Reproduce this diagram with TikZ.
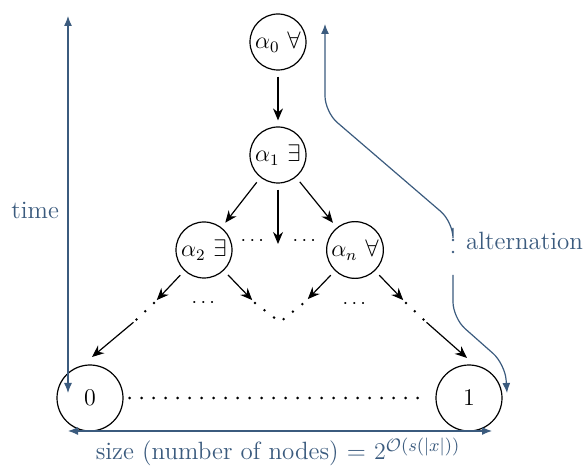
\documentclass[tikz,border=0pt]{standalone}
\usepackage{amsmath}
\usepackage{amssymb}
\usetikzlibrary{arrows.meta}
\definecolor{annot}{HTML}{3B5B7E}
\tikzset{
	state/.style={circle,draw,semithick,minimum size=28pt,inner sep=1pt,font=\large},
	bigstate/.style={circle,draw,semithick,minimum size=33pt,inner sep=1pt,font=\large},
	arr/.style={-{Stealth[length=6pt,width=5pt]},semithick,shorten >=3pt,shorten <=3pt},
	dotline/.style={line width=1.4pt,line cap=round,dash pattern=on 0pt off 6pt},
	note/.style={annot,semithick},
	notetext/.style={annot,font=\fontsize{12.5}{15}\selectfont}
}

\begin{document}
\begin{tikzpicture}[x=0.5pt,y=-0.5pt]
	\useasboundingbox (0,0) rectangle (584,470);

	\node [state] (a0) at (278,42) {$\alpha_0\ \forall$};
	\node [state] (a1) at (278,155) {$\alpha_1\ \exists$};
	\node [state] (a2) at (204,250) {$\alpha_2\ \exists$};
	\node [state] (an) at (355,250) {$\alpha_n\ \forall$};
	\node [bigstate] (zero) at (90,398) {0};
	\node [bigstate] (one) at (469,398) {1};

	\draw [arr] (a0) -- (a1);
	\draw [arr] (a1) -- (a2);
	\draw [arr] (a1) -- (an);
	\coordinate (mid) at (278,244);
	\draw [arr,shorten >=0pt] (a1) -- (mid);
	\node (d1) at (254,241) {$\cdots$};
	\node (d2) at (306,241) {$\cdots$};

	% second level
	\coordinate (l1) at (154,303);
	\coordinate (l2) at (135,321);
	\coordinate (v1) at (255,303);
	\coordinate (vb) at (280,322);
	\coordinate (v2) at (305,302);
	\coordinate (r1) at (406,303);
	\coordinate (r2) at (425,321);
	\coordinate (zt) at (92,357);
	\coordinate (ot) at (467,358);
	\draw [arr,shorten >=2pt] (a2) -- (l1);
	\draw [arr,shorten >=2pt] (a2) -- (v1);
	\draw [arr,shorten >=2pt] (an) -- (v2);
	\draw [arr,shorten >=2pt] (an) -- (r1);
	\draw [dotline] (l1) -- (l2);
	\draw [dotline] (v1) -- (vb) -- (v2);
	\draw [dotline] (r1) -- (r2);
	\node (d3) at (205,303) {$\cdots$};
	\node (d4) at (356,304) {$\cdots$};
	\draw [arr,shorten <=1pt,shorten >=0pt] (l2) -- (zt);
	\draw [arr,shorten <=1pt,shorten >=0pt] (r2) -- (ot);
	\draw [dotline,shorten <=3pt,shorten >=3pt] (zero) -- (one);

	% annotations
	\coordinate (tt) at (68,16);
	\coordinate (tb) at (68,393);
	\draw [note,{Latex[length=5pt,width=4pt]}-{Latex[length=5pt,width=4pt]}] (tt) -- (tb);
	\node [notetext,anchor=east] (time) at (66,210) {time};

	\coordinate (at) at (325,24);
	\coordinate (am) at (453,228);
	\coordinate (am2) at (453,275);
	\coordinate (ab) at (507,393);
	\draw [note,rounded corners=8pt,{Latex[length=5pt,width=4pt]}-] (at) -- (325,112) -- (453,222) -- (am);
	\draw [note,line width=1.3pt,line cap=round,dash pattern=on 0pt off 6pt] (453,240) -- (453,264);
	\draw [note,rounded corners=8pt,-{Latex[length=5pt,width=4pt]}] (am2) -- (453,318) -- (505,364) -- (ab);
	\node [notetext,anchor=west] (alt) at (459,241) {alternation};

	\coordinate (sl) at (68,431);
	\coordinate (sr) at (492,431);
	\draw [note,{Latex[length=5pt,width=4pt]}-{Latex[length=5pt,width=4pt]}] (sl) -- (sr);
	\node [notetext] (size) at (278,452) {size (number of nodes) = $2^{\mathcal{O}(s(|x|))}$};
\end{tikzpicture}
\end{document}
